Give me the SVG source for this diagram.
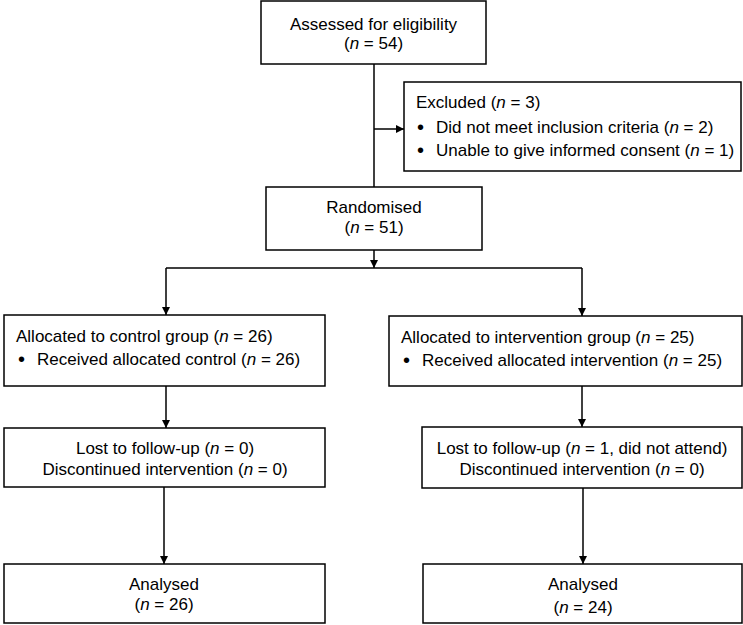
<svg xmlns="http://www.w3.org/2000/svg" width="743" height="625" viewBox="0 0 743 625">
<defs>
<marker id="ah" viewBox="0 0 10 10" refX="10" refY="5" markerWidth="8" markerHeight="8" markerUnits="userSpaceOnUse" orient="auto">
<path d="M0,0 L10,5 L0,10 Z" fill="#000"/>
</marker>
<style>
.box{fill:#fff;stroke:#000;stroke-width:1.5}
.t{font-family:"Liberation Sans",Arial,sans-serif;font-size:17px;fill:#000}
.b{font-size:20px}
.c{text-anchor:middle}
.i{font-style:italic}
.ln{fill:none;stroke:#000;stroke-width:1.5}
</style>
</defs>
<rect width="743" height="625" fill="#fff"/>
<g id="connectors">
<line class="ln" x1="374" y1="64" x2="374" y2="187"/>
<line class="ln" x1="374" y1="129" x2="404" y2="129" marker-end="url(#ah)"/>
<line class="ln" x1="374" y1="250" x2="374" y2="268" marker-end="url(#ah)"/>
<polyline class="ln" points="166,268 582,268"/>
<line class="ln" x1="166" y1="268" x2="166" y2="315" marker-end="url(#ah)"/>
<line class="ln" x1="582" y1="268" x2="582" y2="316" marker-end="url(#ah)"/>
<line class="ln" x1="166" y1="386" x2="166" y2="428" marker-end="url(#ah)"/>
<line class="ln" x1="582" y1="386" x2="582" y2="427" marker-end="url(#ah)"/>
<line class="ln" x1="164" y1="487" x2="164" y2="564" marker-end="url(#ah)"/>
<line class="ln" x1="583" y1="488" x2="583" y2="564" marker-end="url(#ah)"/>
</g>
<g id="assessed">
<rect class="box" x="261" y="1" width="225" height="63"/>
<text class="t c" x="373.5" y="30">Assessed for eligibility</text>
<text class="t c" x="373.5" y="49">(<tspan class="i">n</tspan> = 54)</text>
</g>
<g id="excluded">
<rect class="box" x="404" y="82" width="337" height="89"/>
<text class="t" x="416" y="108">Excluded (<tspan class="i">n</tspan> = 3)</text>
<text class="t b" x="417" y="134">•</text>
<text class="t" x="436" y="133">Did not meet inclusion criteria (<tspan class="i">n</tspan> = 2)</text>
<text class="t b" x="417" y="157">•</text>
<text class="t" x="436" y="156">Unable to give informed consent (<tspan class="i">n</tspan> = 1)</text>
</g>
<g id="randomised">
<rect class="box" x="266" y="187" width="216" height="63"/>
<text class="t c" x="374" y="213">Randomised</text>
<text class="t c" x="374" y="233">(<tspan class="i">n</tspan> = 51)</text>
</g>
<g id="control">
<rect class="box" x="4" y="315" width="321" height="71"/>
<text class="t" x="16" y="342">Allocated to control group (<tspan class="i">n</tspan> = 26)</text>
<text class="t b" x="18" y="366">•</text>
<text class="t" x="37" y="365">Received allocated control (<tspan class="i">n</tspan> = 26)</text>
</g>
<g id="intervention">
<rect class="box" x="389" y="316" width="353" height="70"/>
<text class="t" x="401" y="343">Allocated to intervention group (<tspan class="i">n</tspan> = 25)</text>
<text class="t b" x="403" y="367">•</text>
<text class="t" x="422" y="366">Received allocated intervention (<tspan class="i">n</tspan> = 25)</text>
</g>
<g id="lost-control">
<rect class="box" x="4" y="428" width="321" height="59"/>
<text class="t c" x="165" y="454">Lost to follow-up (<tspan class="i">n</tspan> = 0)</text>
<text class="t c" x="165" y="475">Discontinued intervention (<tspan class="i">n</tspan> = 0)</text>
</g>
<g id="lost-intervention">
<rect class="box" x="422" y="427" width="320" height="61"/>
<text class="t c" x="582" y="454">Lost to follow-up (<tspan class="i">n</tspan> = 1, did not attend)</text>
<text class="t c" x="582" y="475">Discontinued intervention (<tspan class="i">n</tspan> = 0)</text>
</g>
<g id="analysed-control">
<rect class="box" x="4" y="564" width="321" height="59"/>
<text class="t c" x="164" y="590">Analysed</text>
<text class="t c" x="164" y="610">(<tspan class="i">n</tspan> = 26)</text>
</g>
<g id="analysed-intervention">
<rect class="box" x="423" y="564" width="319" height="59"/>
<text class="t c" x="583" y="590">Analysed</text>
<text class="t c" x="583" y="613">(<tspan class="i">n</tspan> = 24)</text>
</g>
</svg>
